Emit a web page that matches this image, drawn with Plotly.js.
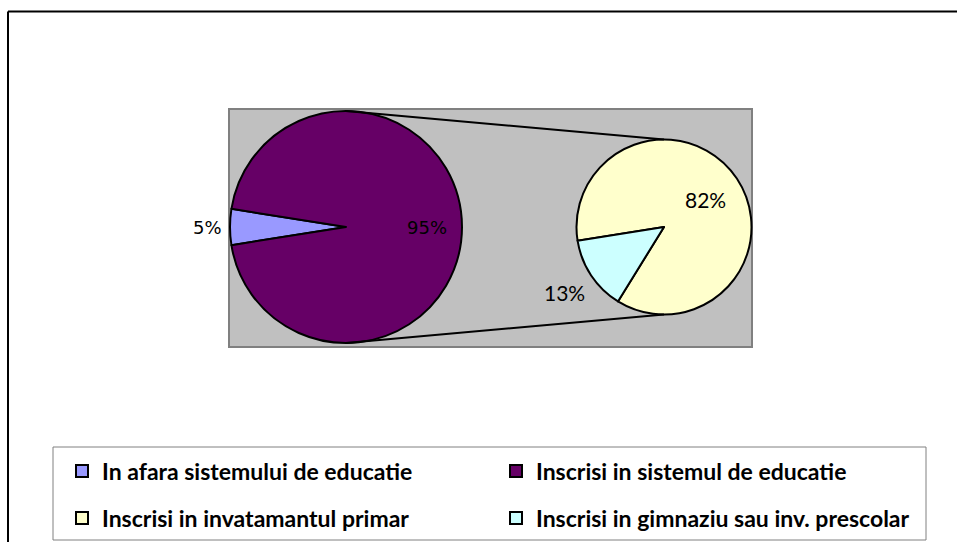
<!DOCTYPE html>
<html><head><meta charset="utf-8">
<script src="https://cdn.plot.ly/plotly-3.0.1.min.js"></script>
<style>html,body{margin:0;padding:0;background:#fff}#chart{width:957px;height:542px}</style>
</head><body><div id="chart"></div>
<script>
// ---- data ----
const primaryLabels = ['In afara sistemului de educatie', 'Inscrisi in sistemul de educatie'];
const primaryValues = [5, 95];
const secondaryLabels = ['Inscrisi in invatamantul primar', 'Inscrisi in gimnaziu sau inv. prescolar'];
const secondaryValues = [82, 13];

// ---- styles ----
const primaryColors = ['#9999FF', '#660066'];
const secondaryColors = ['#FFFFCC', '#CCFFFF'];

const W = 957, H = 542;
const px = v => v / W;
const py = v => (H - v) / H;

// geometry (pixels)
const plotBox = {x0: 229, x1: 752, y0: 109, y1: 347};
const big = {cx: 346, cy: 227, r: 116, rot: 261, inFrac: 0.70, gap: 8, font: {family: 'DejaVu Sans', size: 18, color: '#000'}};
const small = {cx: 664, cy: 227, r: 87.5, rot: 261, inFrac: 0.57, gap: 10, font: {family: 'Lato', size: 21, color: '#000'}};
const dom = c => ({x: [px(c.cx - c.r), px(c.cx + c.r)], y: [py(c.cy + c.r), py(c.cy - c.r)]});

const ctx = document.createElement('canvas').getContext('2d');
function textW(s, f) { ctx.font = f.size + 'px "' + f.family + '"'; return ctx.measureText(s).width; }

// percentage labels placed along each slice's bisector (angles derived from the values)
function sliceLabels(values, pie, positions) {
  const total = values.reduce((a, b) => a + b, 0);
  let cum = 0;
  return values.map((v, i) => {
    const ang = (pie.rot + 360 * (cum + v / 2) / total) * Math.PI / 180;
    cum += v;
    const dx = Math.sin(ang), dy = -Math.cos(ang);
    const txt = v + '%';
    let d;
    if (positions[i] === 'inside') d = pie.inFrac * pie.r;
    else {
      const w = textW(txt, pie.font), h = pie.font.size * 0.75;
      d = pie.r + pie.gap + 0.5 * (w * Math.abs(dx) + h * Math.abs(dy));
    }
    return {xref: 'paper', yref: 'paper', x: px(pie.cx + d * dx), y: py(pie.cy + d * dy),
            text: txt, showarrow: false, xanchor: 'center', yanchor: 'middle', font: pie.font};
  });
}

const traces = [
  {
    type: 'pie', labels: primaryLabels, values: primaryValues, sort: false,
    direction: 'clockwise', rotation: big.rot, domain: dom(big),
    marker: {colors: primaryColors, line: {color: '#000', width: 2}},
    textinfo: 'none', hoverinfo: 'skip', legend: 'legend', automargin: false
  },
  {
    type: 'pie', labels: secondaryLabels, values: secondaryValues, sort: false,
    direction: 'clockwise', rotation: small.rot, domain: dom(small),
    marker: {colors: secondaryColors, line: {color: '#000', width: 2}},
    textinfo: 'none', hoverinfo: 'skip', legend: 'legend2', automargin: false
  }
];

const legendFont = {family: 'Lato', size: 23, color: '#000', weight: 'bold'};
const legendCommon = {
  orientation: 'h', xanchor: 'left', yanchor: 'middle', font: legendFont,
  bgcolor: 'rgba(0,0,0,0)', borderwidth: 0, entrywidth: 389, entrywidthmode: 'pixels',
  traceorder: 'normal'
};

const shapes = [
  // chart-area frame (left and top edges visible)
  {type: 'line', xref: 'paper', yref: 'paper', x0: px(8), x1: px(8), y0: py(H + 2), y1: py(11.5), line: {color: '#000', width: 2}},
  {type: 'line', xref: 'paper', yref: 'paper', x0: px(8), x1: px(W + 2), y0: py(11.5), y1: py(11.5), line: {color: '#000', width: 2}},
  // grey plot area
  {type: 'rect', xref: 'paper', yref: 'paper', x0: px(plotBox.x0), x1: px(plotBox.x1), y0: py(plotBox.y1), y1: py(plotBox.y0), fillcolor: '#C0C0C0', line: {color: '#808080', width: 2}, layer: 'below'},
  // pie-of-pie connector lines
  {type: 'line', xref: 'paper', yref: 'paper', x0: px(big.cx), y0: py(big.cy - big.r), x1: px(small.cx), y1: py(small.cy - small.r), line: {color: '#000', width: 2}},
  {type: 'line', xref: 'paper', yref: 'paper', x0: px(big.cx), y0: py(big.cy + big.r), x1: px(small.cx), y1: py(small.cy + small.r), line: {color: '#000', width: 2}},
  // legend frame
  {type: 'rect', xref: 'paper', yref: 'paper', x0: px(53), x1: px(926), y0: py(540), y1: py(447), line: {color: '#808080', width: 1}, fillcolor: 'rgba(0,0,0,0)'}
];

const annotations = [].concat(
  sliceLabels(primaryValues, big, ['outside', 'inside']),
  sliceLabels(secondaryValues, small, ['inside', 'outside'])
);

const layout = {
  width: W, height: H,
  margin: {l: 0, r: 0, t: 0, b: 0, autoexpand: false},
  paper_bgcolor: '#fff',
  showlegend: true,
  legend: Object.assign({}, legendCommon, {x: px(62), y: py(471)}),
  legend2: Object.assign({}, legendCommon, {x: px(62), y: py(518)}),
  shapes: shapes,
  annotations: annotations
};

Plotly.newPlot('chart', traces, layout, {displayModeBar: false, staticPlot: true});
</script>
</body></html>
